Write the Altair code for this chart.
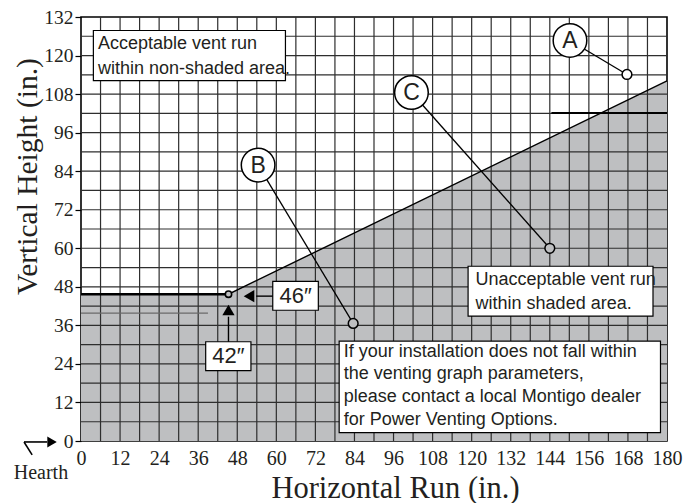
import altair as alt
import numpy as np
import pandas as pd

SHADE = "#bebfc1"
INK = "#231f20"
GRID = "#2e2e2e"

# ---- axis values ----
x_ticks = list(range(0, 181, 12))
y_ticks = list(range(0, 133, 12))
grid_x = list(range(6, 180, 6))
grid_y = list(range(6, 132, 6))

# ---- acceptable / unacceptable boundary ----
boundary_x = [0, 45.3, 180]
boundary_y = [45.7, 45.7, 112.1]

# ---- callouts A, B, C ----
callout_labels = ["A", "B", "C"]
callout_cx = [150.2, 54.4, 101.5]
callout_cy = [124.7, 85.9, 108.5]
point_x = [167.7, 83.6, 144.0]
point_y = [114.1, 36.6, 60.0]

# ---- note boxes ----
note_text = [
    "Acceptable vent run\nwithin non-shaded area.",
    "Unacceptable vent run\nwithin shaded area.",
    "If your installation does not fall within\nthe venting graph parameters,\nplease contact a local Montigo dealer\nfor Power Venting Options.",
]
note_x1 = [3.8, 118.9, 79.3]
note_x2 = [62.8, 175.7, 178.0]
note_y1 = [112.2, 38.9, 2.6]
note_y2 = [127.8, 54.4, 31.1]
note_tx = [5.2, 121.2, 80.7]
note_ty = [123.7, 50.0, 27.8]

# ---- dimension labels ----
dim_text = ["46\u2033", "42\u2033"]
dim_x1 = [58.9, 38.3]
dim_x2 = [72.9, 52.2]
dim_y1 = [40.7, 21.9]
dim_y2 = [49.7, 30.9]

# ---- stray drafting lines ----
stray_x1 = [0, 144.5]
stray_x2 = [39, 180]
stray_y = [39.8, 102.1]

xs = alt.Scale(domain=[0, 180], nice=False, zero=False)
ys = alt.Scale(domain=[0, 132], nice=False, zero=False)

x_axis = alt.Axis(
    values=x_ticks, grid=False, ticks=False, domain=False,
    labelFont="Liberation Serif", labelFontSize=20, labelColor=INK,
    labelPadding=7, labelFlush=False, labelOverlap=False,
    title="Horizontal Run (in.)", titleFont="Liberation Serif",
    titleFontSize=30.5, titleFontWeight="normal", titleColor=INK,
    titleX=314, titleY=47, titleBaseline="middle", titleAlign="center",
)
y_axis = alt.Axis(
    values=y_ticks, grid=False, ticks=True, tickSize=6, tickColor="black",
    tickWidth=1.2, domain=False,
    labelFont="Liberation Serif", labelFontSize=19.5, labelColor=INK,
    labelPadding=2, labelFlush=False, labelOverlap=False,
    title="Vertical Height (in.)", titleFont="Liberation Serif",
    titleFontSize=29.5, titleFontWeight="normal", titleColor=INK,
    titleX=-54, titleY=159, titleBaseline="middle", titleAlign="center",
    titleAngle=270,
)


def X(f):
    return alt.X(f, scale=xs, axis=x_axis)


def Y(f):
    return alt.Y(f, scale=ys, axis=y_axis)


bdf = pd.DataFrame({"x": boundary_x, "y": boundary_y})

shade = alt.Chart(bdf).mark_area(color=SHADE, opacity=1, orient="vertical").encode(
    x=X("x:Q"), y=Y("y:Q"),
)

vgrid = alt.Chart(pd.DataFrame({"gx": grid_x})).mark_rule(color=GRID, strokeWidth=1.2).encode(
    x=X("gx:Q")
)
hgrid = alt.Chart(pd.DataFrame({"gy": grid_y})).mark_rule(color=GRID, strokeWidth=1.2).encode(
    y=Y("gy:Q")
)

sdf = pd.DataFrame({"x1": stray_x1, "x2": stray_x2, "y": stray_y,
                    "c": ["#6a6a6a", "black"], "w": [1.2, 1.9]})
stray = alt.Chart(sdf).mark_rule().encode(
    x=X("x1:Q"), x2="x2:Q", y=Y("y:Q"),
    color=alt.Color("c:N", scale=None),
    strokeWidth=alt.StrokeWidth("w:Q", scale=None),
)

bline = alt.Chart(bdf).mark_line(color="black", strokeWidth=1.4).encode(
    x=X("x:Q"), y=Y("y:Q")
)
flat = alt.Chart(pd.DataFrame({"x1": [boundary_x[0]], "x2": [boundary_x[1]], "y": [boundary_y[0]]})).mark_rule(
    color="black", strokeWidth=2.4).encode(x=X("x1:Q"), x2="x2:Q", y=Y("y:Q"))

ndf = pd.DataFrame({"x1": note_x1, "x2": note_x2, "y1": note_y1, "y2": note_y2,
                    "tx": note_tx, "ty": note_ty, "t": note_text})
note_boxes = alt.Chart(ndf).mark_rect(fill="white", stroke="black", strokeWidth=1.2).encode(
    x=X("x1:Q"), x2="x2:Q", y=Y("y1:Q"), y2="y2:Q",
)
note_layers = []
for i, lh in enumerate([25, 23.4, 22.7]):
    note_layers.append(
        alt.Chart(ndf.iloc[[i]]).mark_text(
            align="left", baseline="middle", lineBreak="\n", lineHeight=lh,
            font="Liberation Sans", fontSize=18, color=INK,
        ).encode(x=X("tx:Q"), y=Y("ty:Q"), text="t:N")
    )

ddf = pd.DataFrame({"x1": dim_x1, "x2": dim_x2, "y1": dim_y1, "y2": dim_y2, "t": dim_text})
ddf["cx"] = (ddf["x1"] + ddf["x2"]) / 2
ddf["cy"] = (ddf["y1"] + ddf["y2"]) / 2
dim_boxes = alt.Chart(ddf).mark_rect(fill="white", stroke="black", strokeWidth=1.2).encode(
    x=X("x1:Q"), x2="x2:Q", y=Y("y1:Q"), y2="y2:Q",
)
dim_txt = alt.Chart(ddf).mark_text(
    align="center", baseline="middle", font="Liberation Sans", fontSize=22, color=INK
).encode(x=X("cx:Q"), y=Y("cy:Q"), text="t:N")

# arrows from dimension boxes to the corner point
corner_x, corner_y = boundary_x[1], boundary_y[1]
adf = pd.DataFrame({
    "x1": [dim_x1[0], corner_x],
    "x2": [corner_x + 8.5, corner_x],
    "y1": [corner_y - 0.6, dim_y2[1]],
    "y2": [corner_y - 0.6, corner_y - 7],
})
arrow_lines = alt.Chart(adf).mark_rule(color="black", strokeWidth=1.4).encode(
    x=X("x1:Q"), x2="x2:Q", y=Y("y1:Q"), y2="y2:Q",
)
head_left = alt.Chart(pd.DataFrame({"x": [corner_x + 6.3], "y": [corner_y - 0.6]})).mark_point(
    shape="triangle-left", size=150, filled=True, color="black", opacity=1).encode(
    x=X("x:Q"), y=Y("y:Q"))
head_up = alt.Chart(pd.DataFrame({"x": [corner_x], "y": [corner_y - 4.9]})).mark_point(
    shape="triangle-up", size=150, filled=True, color="black", opacity=1).encode(
    x=X("x:Q"), y=Y("y:Q"))
corner_pt = alt.Chart(pd.DataFrame({"x": [corner_x], "y": [corner_y]})).mark_circle(
    size=40, fill=SHADE, stroke="black", strokeWidth=1.6, opacity=1).encode(
    x=X("x:Q"), y=Y("y:Q"))

# callouts
cdf = pd.DataFrame({"lab": callout_labels, "cx": callout_cx, "cy": callout_cy,
                    "px": point_x, "py": point_y})
below = cdf["py"] < np.interp(cdf["px"], boundary_x, boundary_y)
cdf["fill"] = np.where(below, SHADE, "white")

leader = alt.Chart(cdf).mark_rule(color="black", strokeWidth=1.3).encode(
    x=X("cx:Q"), x2="px:Q", y=Y("cy:Q"), y2="py:Q",
)
small = alt.Chart(cdf).mark_circle(size=95, stroke="black", strokeWidth=1.5, opacity=1).encode(
    x=X("px:Q"), y=Y("py:Q"), fill=alt.Color("fill:N", scale=None),
)
big = alt.Chart(cdf).mark_circle(size=1130, fill="white", stroke="black", strokeWidth=1.5, opacity=1).encode(
    x=X("cx:Q"), y=Y("cy:Q"),
)
letters = alt.Chart(cdf).mark_text(
    align="center", baseline="middle", font="Liberation Sans", fontSize=23, color=INK, dy=1
).encode(x=X("cx:Q"), y=Y("cy:Q"), text="lab:N")

# hearth marker (outside the plot, bottom-left)
hdf = pd.DataFrame({"x1": [-17.5, -17.5], "x2": [-10.4, -15.0], "y1": [-0.3, -0.3], "y2": [-0.3, -4.3]})
hearth_lines = alt.Chart(hdf).mark_rule(color="black", strokeWidth=1.6).encode(
    x=X("x1:Q"), x2="x2:Q", y=Y("y1:Q"), y2="y2:Q",
)
hearth_head = alt.Chart(pd.DataFrame({"x": [-8.9], "y": [-0.3]})).mark_point(
    shape="triangle-right", size=120, filled=True, color="black", opacity=1).encode(
    x=X("x:Q"), y=Y("y:Q"))
hearth_text = alt.Chart(pd.DataFrame({"x": [-12.3], "y": [-9.9], "t": ["Hearth"]})).mark_text(
    align="center", baseline="middle", font="Liberation Serif", fontSize=20, color=INK
).encode(x=X("x:Q"), y=Y("y:Q"), text="t:N")

chart = alt.layer(
    shade, vgrid, hgrid, stray, bline, flat,
    note_boxes, *note_layers, dim_boxes, dim_txt,
    arrow_lines, head_left, head_up, corner_pt,
    leader, small, big, letters,
    hearth_lines, hearth_head, hearth_text,
).properties(
    width=586, height=424,
    padding={"left": 73, "top": 9, "right": 20, "bottom": 62},
    autosize=alt.AutoSizeParams(type="none"),
    background="white",
).configure_view(stroke="black", strokeWidth=1.6)

chart.save("out.html", embed_options={"renderer": "svg", "actions": False})
